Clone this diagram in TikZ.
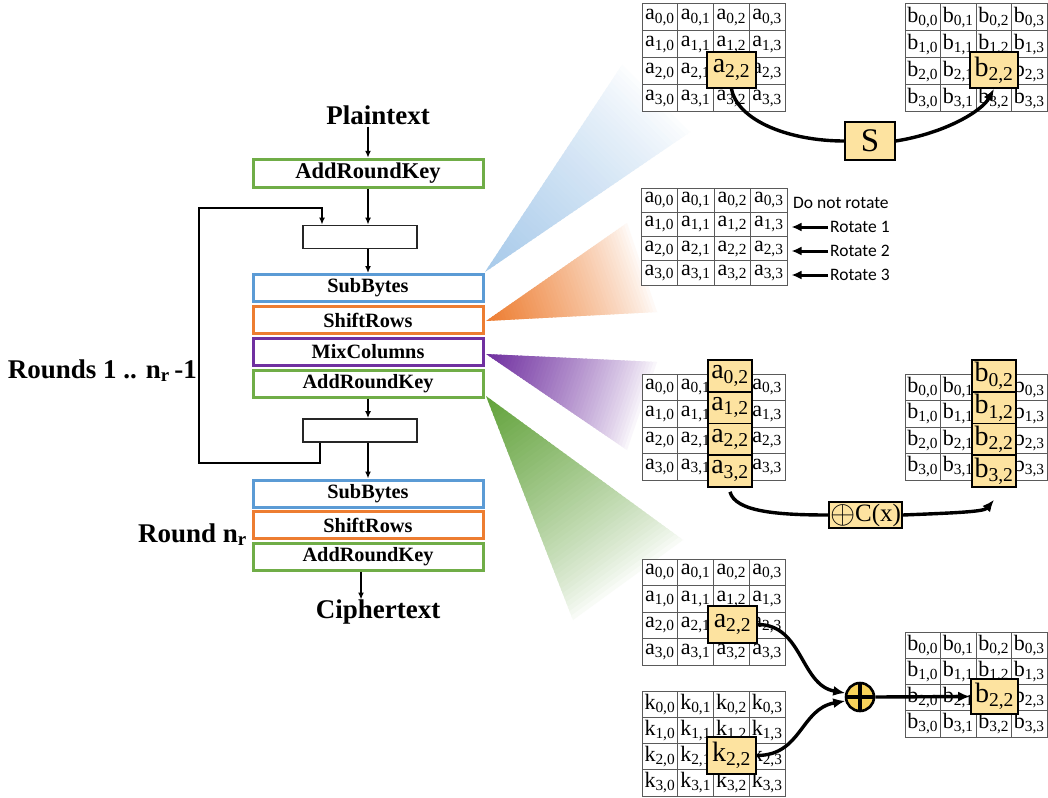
\documentclass[tikz,border=0pt]{standalone}
\usepackage{fontspec}
\usepackage{graphicx}
\setmainfont{Liberation Serif}
\newfontfamily\labelfont{Carlito}
\usetikzlibrary{arrows.meta,calc}

\definecolor{sbblue}{HTML}{5B9BD5}
\definecolor{srorange}{HTML}{ED7D31}
\definecolor{mcpurple}{HTML}{7030A0}
\definecolor{akgreen}{HTML}{70AD47}
\definecolor{hlyellow}{HTML}{FDE3A0}
\definecolor{xoryellow}{HTML}{F9D35A}
\definecolor{fanblue}{HTML}{A8CAEA}
\definecolor{fanorange}{HTML}{ED7D31}
\definecolor{fanpurple}{HTML}{7030A0}
\definecolor{fangreen}{HTML}{62A23B}
\definecolor{gridgray}{HTML}{5A5A5A}

% state cell label: letter with row,column subscript
\newcommand\cellt[2]{#1\textsubscript{#2}}

% fading wedge from apex #2 towards the edge #3--#4
\newcommand\fan[4]{%
  \foreach \i in {0,...,49}{%
    \pgfmathsetmacro\ta{\i/50}%
    \pgfmathsetmacro\tb{min(1,(\i+1.5)/50)}%
    \pgfmathsetmacro\pc{100*(1-\i/50)^0.8}%
    \fill[#1!\pc!white] ($(#2)!\ta!(#3)$) -- ($(#2)!\tb!(#3)$)
      -- ($(#2)!\tb!(#4)$) -- ($(#2)!\ta!(#4)$) -- cycle;
  }}

% 4x4 state matrix: name, x0, y0, cell width, cell height, letter
\newcommand\mgrid[6]{%
  \foreach \r in {0,...,3}{\foreach \c in {0,...,3}{%
    \node[cell, minimum width=#4pt, minimum height=#5pt] (#1-\r-\c)
      at ({#2+(\c+0.5)*#4},{#3+(\r+0.5)*#5}) {\cellt{#6}{\r,\c}};
  }}}

\tikzset{
  cell/.style={draw=gridgray, line width=1pt, fill=white, inner sep=0pt,
    font=\fontsize{22}{22}\selectfont},
  hl/.style={draw=black, line width=1.6pt, fill=hlyellow, inner sep=0pt,
    font=\fontsize{28}{28}\selectfont},
  opbox/.style={draw=#1, line width=3pt, fill=white, minimum width=230pt,
    minimum height=27pt, inner sep=0pt, font=\fontsize{20.3}{20.3}\selectfont\bfseries},
  emptybox/.style={draw=black!85, line width=1.8pt, fill=white,
    minimum width=114pt, minimum height=23pt, inner sep=0pt},
  title/.style={inner sep=0pt, font=\fontsize{27}{27}\selectfont\bfseries},
  rotl/.style={inner sep=0pt, anchor=west, font=\labelfont\fontsize{17.5}{17.5}\selectfont},
  flow/.style={line width=2pt, -{Latex[length=7pt,width=6pt]}},
  rotarrow/.style={line width=3pt, -{Latex[length=10pt,width=9pt]}},
  curvel/.style={line width=3.4pt},
  curvea/.style={line width=3.4pt, -{Latex[length=12pt,width=10pt]}},
}

\begin{document}
\begin{tikzpicture}[x=1pt,y=-1pt]
\useasboundingbox (0,0) rectangle (1048,797);
\fill[white] (0,0) rectangle (1048,797);

% ---- fading wedges from the round steps ----
\coordinate (bA) at (485,272); \coordinate (bP) at (622,65);  \coordinate (bQ) at (690,132);
\coordinate (oA) at (486,321); \coordinate (oP) at (627,223); \coordinate (oQ) at (657,312);
\coordinate (pA) at (486,354); \coordinate (pP) at (657,362); \coordinate (pQ) at (627,450);
\coordinate (gA) at (486,396); \coordinate (gP) at (683,540); \coordinate (gQ) at (573,620);
\fan{fanblue}{bA}{bP}{bQ}
\fan{fanorange}{oA}{oP}{oQ}
\fan{fanpurple}{pA}{pP}{pQ}
\fan{fangreen}{gA}{gP}{gQ}

% ---- SubBytes ----
\mgrid{sba}{642}{4}{35.75}{27}{a}
\mgrid{sbb}{905}{4}{35.5}{27}{b}
\node[hl, minimum width=49pt, minimum height=36pt] (sa22) at (731.5,70) {\cellt{a}{2,2}};
\node[hl, minimum width=48pt, minimum height=36pt] (sb22) at (994,70) {\cellt{b}{2,2}};
\node[hl, minimum width=50pt, minimum height=38pt, font=\fontsize{33}{33}\selectfont] (sbox) at (870,141) {S};
\draw[curvel] (sa22.south) .. controls +(6,32) and +(-55,0) .. (sbox.west);
\draw[curvea] (sbox.east) .. controls +(50,-8) and +(-12,22) .. (sb22.south);

% ---- ShiftRows ----
\mgrid{sr}{641}{188}{36.5}{24.25}{a}
\node[rotl] (dnr) at (793,203) {Do not rotate};
\node[rotl] (r1) at (830,227) {Rotate 1};
\node[rotl] (r2) at (830,251) {Rotate 2};
\node[rotl] (r3) at (830,275) {Rotate 3};
\draw[rotarrow] ([xshift=-2pt]r1.west) -- ([xshift=4pt]r1.west -| sr-1-3.east);
\draw[rotarrow] ([xshift=-2pt]r2.west) -- ([xshift=4pt]r2.west -| sr-2-3.east);
\draw[rotarrow] ([xshift=-2pt]r3.west) -- ([xshift=4pt]r3.west -| sr-3-3.east);

% ---- MixColumns ----
\mgrid{mxa}{642}{374}{35.75}{26.5}{a}
\mgrid{mxb}{905}{374}{35.5}{26.5}{b}
\foreach \r in {0,...,3}{
  \node[hl, minimum width=44pt, minimum height=31.75pt] (mca\r) at (730,{360+(\r+0.5)*31.75}) {\cellt{a}{\r,2}};
  \node[hl, minimum width=44pt, minimum height=31.75pt] (mcb\r) at (994,{360+(\r+0.5)*31.75}) {\cellt{b}{\r,2}};
}
\node[hl, minimum width=73pt, minimum height=26pt, font=\fontsize{25}{25}\selectfont] (cbox) at (865.5,515) {\raisebox{-0.08em}{\scalebox{1.3}{$\oplus$}}C(x)};
\draw[curvel] ([yshift=-4pt]mca3.south) .. controls +(5,20) and +(-50,0) .. (cbox.west);
\draw[curvea] (cbox.east) .. controls +(50,-2) and +(-10,12) .. ([yshift=-12pt]mcb3.south);

% ---- AddRoundKey ----
\mgrid{aka}{642}{559}{35.75}{26.5}{a}
\mgrid{akk}{642}{691}{35.75}{26.25}{k}
\mgrid{akb}{905}{632}{35.5}{26.25}{b}
\node[hl, minimum width=49pt, minimum height=37pt] (aa22) at (732.5,624.5) {\cellt{a}{2,2}};
\node[hl, minimum width=49pt, minimum height=37pt] (ak22) at (731.5,755.5) {\cellt{k}{2,2}};
\node[hl, minimum width=47pt, minimum height=35pt] (ab22) at (994.5,696.5) {\cellt{b}{2,2}};
\node[circle, draw=black, line width=2.6pt, fill=xoryellow, minimum size=28pt, inner sep=0pt] (xr) at (860,697) {};
\draw[line width=3.2pt] ([yshift=-2.5pt]xr.north) -- ([yshift=2.5pt]xr.south)
  ([xshift=2.5pt]xr.west) -- ([xshift=-2.5pt]xr.east);
\draw[curvea] (aa22.east) .. controls +(45,0) and +(-45,-8) .. (xr.165);
\draw[curvea] (ak22.east) .. controls +(45,0) and +(-45,8) .. (xr.195);
\draw[curvea] (xr.east) -- (ab22.west);

% ---- cipher flow ----
\node[title] (pt) at (378,115) {Plaintext};
\node[opbox=akgreen, minimum height=28.5pt, font=\fontsize{22.5}{22.5}\selectfont\bfseries] (ark1) at (368,173.5) {AddRoundKey};
\node[emptybox] (e1) at (360,237) {};
\node[opbox=sbblue] (sb1) at (368,288) {SubBytes};
\node[opbox=srorange] (sr1) at (368,320) {ShiftRows};
\node[opbox=mcpurple] (mc1) at (368,352) {MixColumns};
\node[opbox=akgreen] (ark2) at (368,383.5) {AddRoundKey};
\node[emptybox] (e2) at (360,430.5) {};
\node[opbox=sbblue] (sb2) at (368,493.5) {SubBytes};
\node[opbox=srorange] (sr2) at (368,525) {ShiftRows};
\node[opbox=akgreen] (ark3) at (368,556.5) {AddRoundKey};
\node[title] (ct) at (378,612) {Ciphertext};
\node[title, anchor=base east] (rl) at (197,378) {Rounds 1 .. n\textsubscript{r}\,-1};
\node[title, anchor=base east] (rn) at (247,542) {Round n\textsubscript{r}};

\draw[flow] ([yshift=-2pt]ark1.north |- pt.south) -- (ark1.north);
\draw[flow] (ark1.south) -- (ark1.south |- e1.north);
\draw[flow] (e1.south -| sb1.north) -- (sb1.north);
\draw[flow] (ark2.south) -- (ark2.south |- e2.north);
\draw[flow] (e2.south -| sb2.north) -- (sb2.north);
\draw[flow] ([xshift=-7pt]ark3.south) -- ([xshift=-7pt]ark3.south |- ct.north);

\coordinate (lp1) at (199,463);
\coordinate (lp2) at (199,208);
\draw[flow] ([xshift=-40pt]e2.south) |- (lp1) -- (lp2) -| ([xshift=-38pt]e1.north);
\end{tikzpicture}
\end{document}
